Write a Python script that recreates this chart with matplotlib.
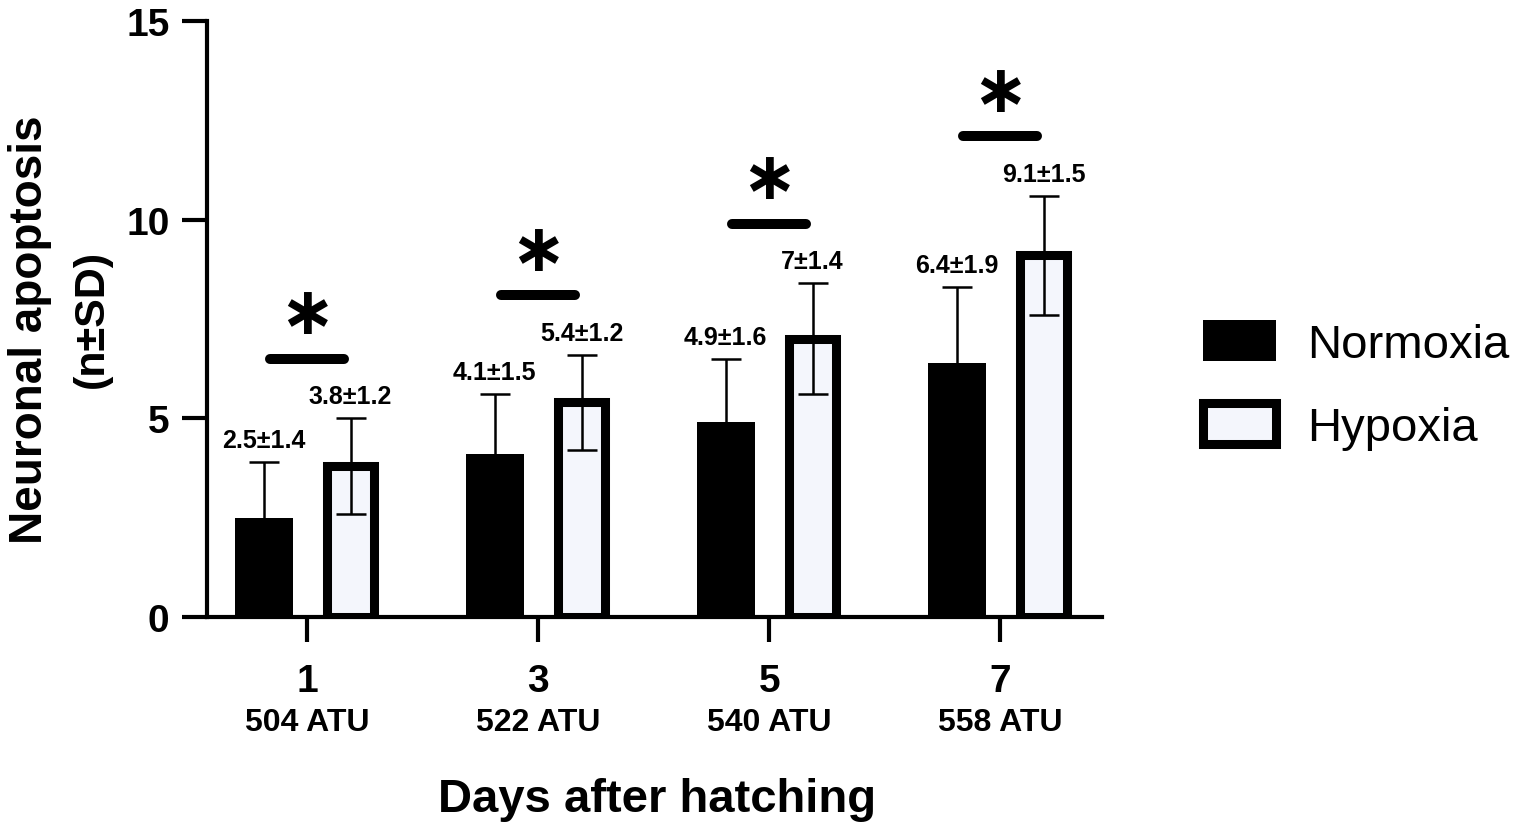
import matplotlib
matplotlib.use("Agg")
import matplotlib.pyplot as plt
import numpy as np
from matplotlib.patches import Patch
from matplotlib.transforms import blended_transform_factory

plt.rcParams['font.family'] = ['Liberation Sans', 'DejaVu Sans']

# ---- data ----
days = ["1", "3", "5", "7"]
atu = ["504 ATU", "522 ATU", "540 ATU", "558 ATU"]
normoxia = [2.5, 4.1, 4.9, 6.4]
normoxia_sd = [1.4, 1.5, 1.6, 1.9]
hypoxia = [3.8, 5.4, 7.0, 9.1]
hypoxia_sd = [1.2, 1.2, 1.4, 1.5]
norm_labels = ["2.5±1.4", "4.1±1.5", "4.9±1.6", "6.4±1.9"]
hyp_labels = ["3.8±1.2", "5.4±1.2", "7±1.4", "9.1±1.5"]
yticks = [0, 5, 10, 15]

W, H = 1517, 828
fig = plt.figure(figsize=(W / 100, H / 100), dpi=100)
ax = fig.add_axes([207 / W, 1 - 618 / H, (1102 - 207) / W, (618 - 22) / H])

x = np.arange(len(days))
off = 0.188
hyp_fill = "#F4F6FC"

ax.bar(x - off, normoxia, width=0.251, color="black", edgecolor="black",
       linewidth=0, zorder=2)
ax.bar(x + off, hypoxia, width=0.203, color=hyp_fill, edgecolor="black",
       linewidth=6.5, zorder=2)
ax.errorbar(x - off, normoxia, yerr=normoxia_sd, fmt="none", ecolor="black",
            elinewidth=1.8, capsize=11, capthick=1.8, zorder=3)
ax.errorbar(x + off, hypoxia, yerr=hypoxia_sd, fmt="none", ecolor="black",
            elinewidth=1.8, capsize=11, capthick=1.8, zorder=3)

# value labels
for i in range(len(days)):
    ax.text(x[i] - off, normoxia[i] + normoxia_sd[i] + 0.38, norm_labels[i],
            ha="center", va="baseline", fontsize=18, fontweight="bold")
    ax.text(x[i] + off, hypoxia[i] + hypoxia_sd[i] + 0.38, hyp_labels[i],
            ha="center", va="baseline", fontsize=18, fontweight="bold")
    # significance bar and asterisk
    ys = hypoxia[i] + hypoxia_sd[i] + 1.5
    ax.plot([x[i] - 0.16, x[i] + 0.16], [ys, ys], color="black", lw=7.2,
            solid_capstyle="round", zorder=3, clip_on=False)
    ax.text(x[i], ys + 1.3, "\u2217", ha="center", va="center_baseline", fontsize=48,
            fontweight="bold", family="DejaVu Sans")

ax.set_xlim(-0.433, 3.44)
ax.set_ylim(0, 15)
ax.set_yticks(yticks)
ax.set_yticklabels([str(t) for t in yticks])
ax.set_xticks(x)
ax.set_xticklabels(days)
for s in ["top", "right"]:
    ax.spines[s].set_visible(False)
for s in ["left", "bottom"]:
    ax.spines[s].set_linewidth(3)
ax.tick_params(axis="both", width=3, length=18, labelsize=28)
ax.tick_params(axis="y", pad=9)
ax.tick_params(axis="x", pad=15)
for lab in ax.get_xticklabels() + ax.get_yticklabels():
    lab.set_fontweight("bold")

trans = blended_transform_factory(ax.transData, ax.transAxes)
for i in range(len(days)):
    ax.text(x[i], -0.1765, atu[i], transform=trans, ha="center", va="center",
            fontsize=23, fontweight="bold")

ax.set_xlabel("Days after hatching", fontsize=34, fontweight="bold", va="center")
ax.xaxis.set_label_coords(0.503, -(800 - 618) / 596)
ax.set_ylabel("Neuronal apoptosis", fontsize=33, fontweight="bold", va="center")
ax.yaxis.set_label_coords((30 - 207) / 895, (618 - 330) / 596)
ax.text((92 - 207) / 895, (618 - 319) / 596, "(n±SD)", transform=ax.transAxes,
        rotation=90, ha="center", va="center", fontsize=31, fontweight="bold")

handles = [Patch(facecolor="black", edgecolor="black", linewidth=0, label="Normoxia"),
           Patch(facecolor=hyp_fill, edgecolor="black", linewidth=6.5, label="Hypoxia")]
fig.legend(handles=handles, loc="upper left", bbox_to_anchor=(1203 / W, 1 - 321 / H),
           frameon=False, fontsize=34, handlelength=1.55, handleheight=0.95,
           handletextpad=0.65, labelspacing=0.78, borderpad=0, borderaxespad=0)

fig.savefig("out.png", dpi=100)
